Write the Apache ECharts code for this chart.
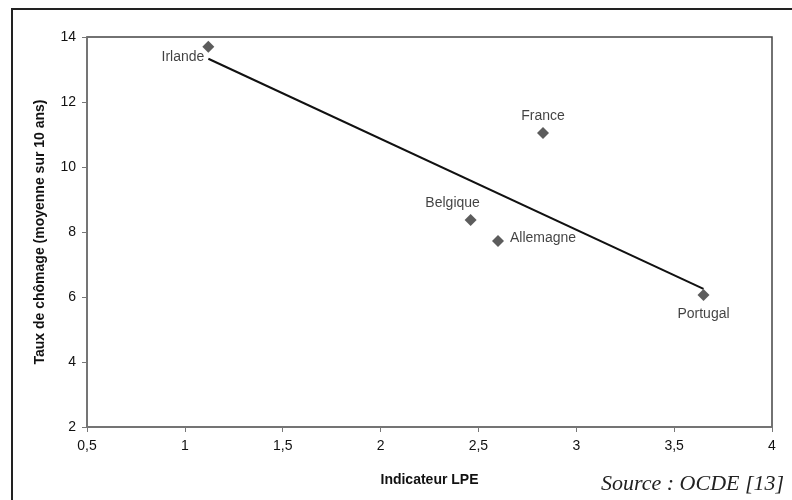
<!DOCTYPE html>
<html><head><meta charset="utf-8">
<script src="https://cdn.jsdelivr.net/npm/echarts@6/dist/echarts.min.js"></script>
<style>html,body{margin:0;padding:0;background:#fff}#c{width:792px;height:500px}</style>
</head><body><div id="c"></div>
<script>
const countries = ["Irlande","France","Belgique","Allemagne","Portugal"];
const lpe = [1.12, 2.83, 2.46, 2.60, 3.65];
const chomage = [13.7, 11.05, 8.37, 7.72, 6.06];
const trendX = [1.12, 3.65];
const trendY = [13.33, 6.25];
const xTicks = [0.5,1,1.5,2,2.5,3,3.5,4];

const labelStyles = {
  "Irlande": {position:'left', distance:0, offset:[2,10]},
  "France": {position:'top', distance:4},
  "Belgique": {position:'top', distance:4, offset:[-18,0]},
  "Allemagne": {position:'right', distance:6, offset:[0,-3]},
  "Portugal": {position:'bottom', distance:6}
};

const chart = echarts.init(document.getElementById('c'));
const fmt = v => String(v).replace('.', ',');
chart.setOption({
  animation:false,
  graphic:[
    {type:'rect', shape:{x:12,y:9,width:800,height:520}, style:{fill:'none',stroke:'#222',lineWidth:2}, silent:true},
    {type:'text', left:601, top:473, style:{text:'Source : OCDE [13]', font:'italic 22px "Liberation Serif", serif', fill:'#222'}}
  ],
  grid:{left:87, top:37, width:685, height:390, show:true, borderColor:'#444', borderWidth:1.5, backgroundColor:'transparent'},
  xAxis:{
    type:'value', min:xTicks[0], max:xTicks[xTicks.length-1], interval:0.5,
    name:'Indicateur LPE', nameLocation:'middle', nameGap:46,
    nameTextStyle:{fontFamily:'Liberation Sans', fontWeight:'bold', fontSize:14, color:'#111'},
    axisLine:{show:true, onZero:false, lineStyle:{color:'#777', width:1.5}},
    axisTick:{show:true, length:5, lineStyle:{color:'#777'}},
    axisLabel:{formatter:fmt, fontFamily:'Liberation Sans', fontSize:14, color:'#111', margin:12},
    splitLine:{show:false}
  },
  yAxis:{
    type:'value', min:2, max:14, interval:2,
    name:'Taux de chômage (moyenne sur 10 ans)', nameLocation:'middle', nameGap:40,
    nameTextStyle:{fontFamily:'Liberation Sans', fontWeight:'bold', fontSize:14, color:'#111'},
    axisLine:{show:true, onZero:false, lineStyle:{color:'#777', width:1.5}},
    axisTick:{show:true, length:5, lineStyle:{color:'#777'}},
    axisLabel:{fontFamily:'Liberation Sans', fontSize:14, color:'#111', margin:11},
    splitLine:{show:false}
  },
  series:[
    {
      type:'line', data:trendX.map((x,i)=>[x,trendY[i]]), symbol:'none',
      lineStyle:{color:'#111', width:2}, silent:true, z:2
    },
    {
      type:'scatter', symbol:'diamond', symbolSize:12, z:3,
      itemStyle:{color:'#333'},
      data:countries.map((n,i)=>({name:n, value:[lpe[i], chomage[i]],
        label:Object.assign({show:true, formatter:'{b}', fontFamily:'Liberation Sans', fontSize:14, color:'#111'}, labelStyles[n])}))
    }
  ]
});
</script></body></html>
